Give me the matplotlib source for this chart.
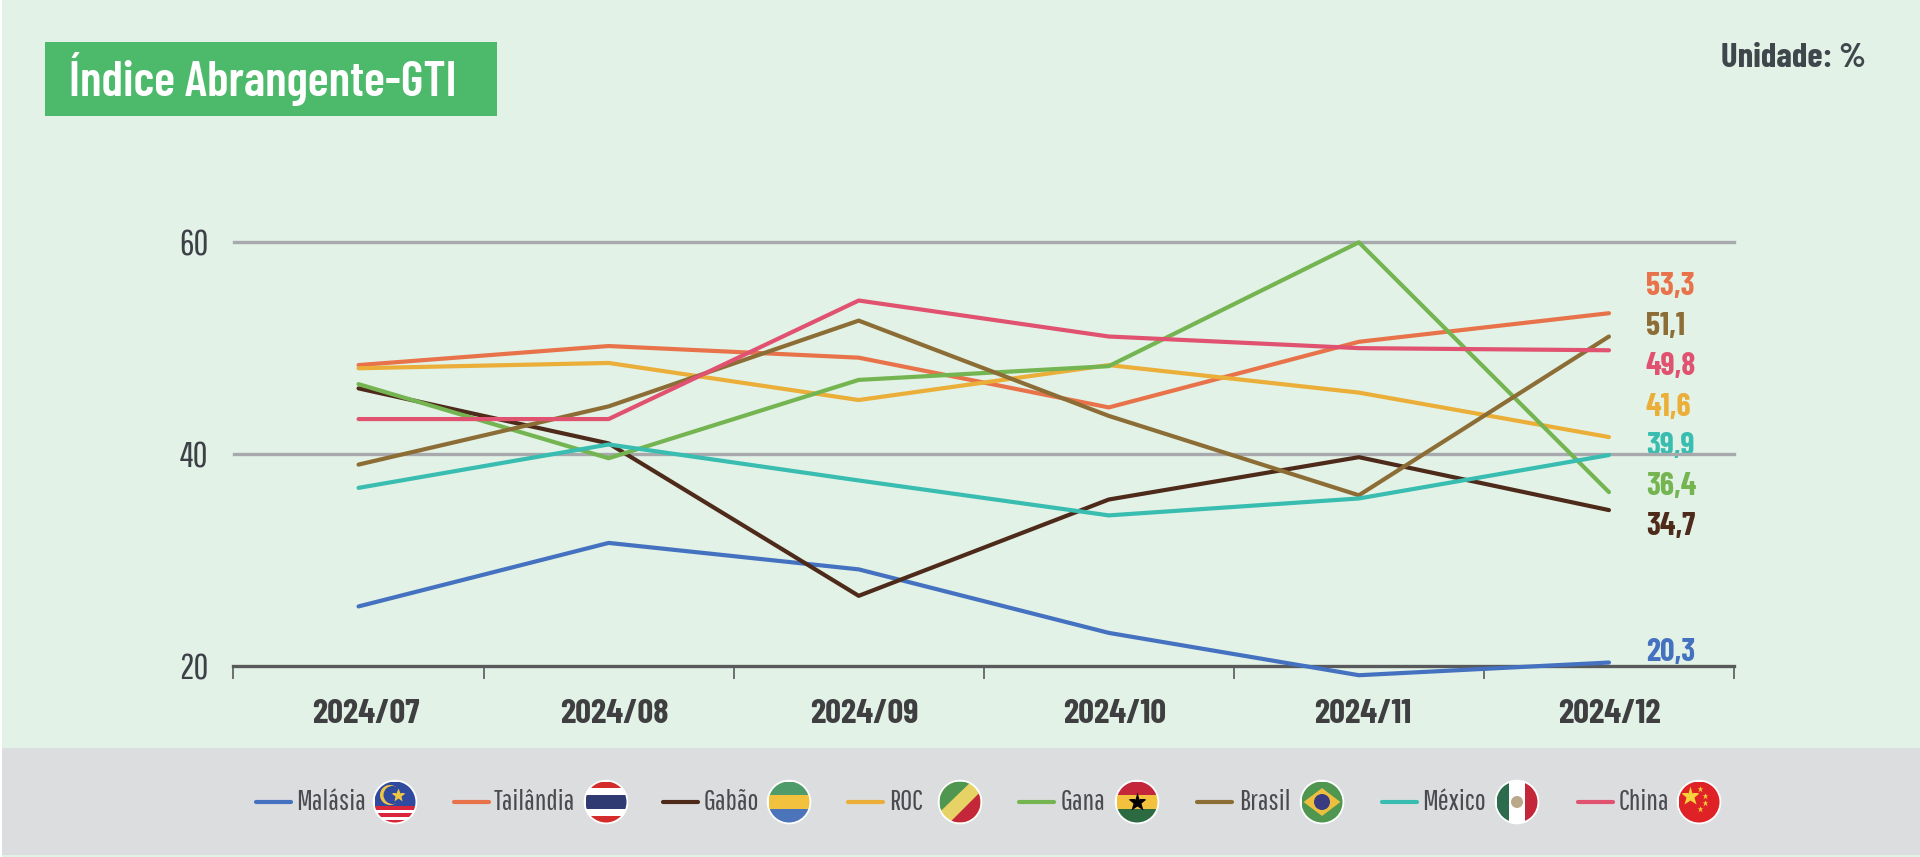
import matplotlib
matplotlib.use("Agg")
import matplotlib.pyplot as plt
from matplotlib.patches import Rectangle, Circle, Polygon
from matplotlib.transforms import ScaledTranslation

# DIN style condensed look, with plain fallbacks behind it
thin_font = ['Pathway Gothic One', 'Barlow Condensed', 'Roboto', 'DejaVu Sans']
bold_font = ['Barlow Condensed', 'Roboto', 'DejaVu Sans']
plt.rcParams['font.family'] = thin_font

# Data
months = ['2024/07', '2024/08', '2024/09', '2024/10', '2024/11', '2024/12']
malasia = [25.6, 31.6, 29.1, 23.1, 19.1, 20.3]
tailandia = [48.4, 50.2, 49.1, 44.4, 50.6, 53.3]
gabao = [46.2, 41.0, 26.6, 35.7, 39.7, 34.7]
roc = [48.1, 48.6, 45.1, 48.4, 45.8, 41.6]
gana = [46.6, 39.6, 47.0, 48.3, 60.0, 36.4]
brasil = [39.0, 44.5, 52.6, 43.6, 36.1, 51.1]
mexico = [36.8, 40.9, 37.5, 34.2, 35.8, 39.9]
china = [43.3, 43.3, 54.5, 51.1, 50.0, 49.8]

names = ['Malásia', 'Tailândia', 'Gabão', 'ROC', 'Gana', 'Brasil', 'México', 'China']
series = [malasia, tailandia, gabao, roc, gana, brasil, mexico, china]
colors = ['#4472C0', '#E8734A', '#4E2A1A', '#EBAE38', '#74B552', '#8C6D35', '#38BDB0', '#E05270']

# Layout, in pixels of the 1920x857 picture
end_label_y = {'Tailândia': 286, 'Brasil': 326, 'China': 366, 'ROC': 407,
               'México': 446, 'Gana': 486, 'Gabão': 526, 'Malásia': 652}
month_label_shift = [7, 6, 6, 6, 4, 0]
legend_line_x = [256, 454, 663, 848, 1019, 1197, 1382, 1578]
legend_text_x = [296, 494, 704, 889, 1061, 1239, 1422, 1619]
legend_flag_x = [395, 606, 789, 960, 1137, 1322, 1517, 1699]
legend_y = 802
flag_r = 20.5


def draw_flag(ax, cx, cy, name):
    r = flag_r
    ring = Circle((cx, cy), r + 1.8, fc='white', ec='none', zorder=3)
    ax.add_patch(ring)
    clip = Circle((cx, cy), r, transform=ax.transData)
    drawn = []

    def band(top, bottom, color):
        # top and bottom run from 0 to 1 down the flag
        rect = Rectangle((cx - r, cy - r + 2 * r * top), 2 * r, 2 * r * (bottom - top),
                         fc=color, ec='none', zorder=4)
        drawn.append(ax.add_patch(rect))

    def shape(points, color):
        pts = [(cx + r * px, cy + r * py) for px, py in points]
        drawn.append(ax.add_patch(Polygon(pts, fc=color, ec='none', zorder=5)))

    if name == 'Malásia':
        band(0, 0.6, '#2F4A9F')
        band(0.6, 0.7, '#D9263A')
        band(0.7, 0.78, 'white')
        band(0.78, 0.87, '#D9263A')
        band(0.87, 0.93, 'white')
        band(0.93, 1, '#D9263A')
        drawn.append(ax.add_patch(Circle((cx - 5, cy - 7), 10, fc='#EFC544', ec='none', zorder=5)))
        drawn.append(ax.add_patch(Circle((cx - 2.5, cy - 7), 9, fc='#2F4A9F', ec='none', zorder=5)))
        drawn += ax.plot(cx + 3, cy - 7, marker='*', ms=10, color='#EFC544', mec='none', zorder=6)
    elif name == 'Tailândia':
        band(0, 0.17, '#D42B2B')
        band(0.17, 0.33, 'white')
        band(0.33, 0.67, '#2F3A72')
        band(0.67, 0.83, 'white')
        band(0.83, 1, '#D42B2B')
    elif name == 'Gabão':
        band(0, 0.34, '#4F9C6A')
        band(0.34, 0.66, '#F2C23E')
        band(0.66, 1, '#4C74BA')
    elif name == 'ROC':
        band(0, 1, '#E6D265')
        shape([(-1, -1), (0.55, -1), (-1, 0.5)], '#4F9650')
        shape([(1, 1), (-0.5, 1), (1, -0.5)], '#C4263A')
    elif name == 'Gana':
        band(0, 0.33, '#C4263A')
        band(0.33, 0.67, '#F2C23E')
        band(0.67, 1, '#2C6B42')
        drawn += ax.plot(cx, cy, marker='*', ms=14, color='black', mec='none', zorder=6)
    elif name == 'Brasil':
        band(0, 1, '#4F9650')
        shape([(-0.9, 0), (0, -0.68), (0.9, 0), (0, 0.68)], '#EDBF3F')
        drawn.append(ax.add_patch(Circle((cx, cy), 8, fc='#3A3B80', ec='none', zorder=6)))
    elif name == 'México':
        band(0, 1, 'white')
        rect = Rectangle((cx - r, cy - r), 2 * r * 0.3, 2 * r, fc='#2C6B4C', ec='none', zorder=5)
        drawn.append(ax.add_patch(rect))
        rect = Rectangle((cx + r * 0.4, cy - r), 2 * r * 0.3, 2 * r, fc='#C4263A', ec='none', zorder=5)
        drawn.append(ax.add_patch(rect))
        drawn.append(ax.add_patch(Circle((cx, cy), 6, fc='#B9A98A', ec='none', zorder=6)))
    elif name == 'China':
        band(0, 1, '#DE2226')
        star_y = '#F6D23C'
        drawn += ax.plot(cx - 9, cy - 6, marker='*', ms=14, color=star_y, mec='none', zorder=6)
        for sx, sy in [(1, -13), (6, -6), (6, 1), (1, 7)]:
            drawn += ax.plot(cx + sx, cy + sy, marker='*', ms=5, color=star_y, mec='none', zorder=6)

    for artist in drawn:
        artist.set_clip_path(clip)


fig = plt.figure(figsize=(19.2, 8.57), dpi=100, facecolor='white')

# Full picture layer in pixels for panel, title and legend
bg = fig.add_axes([0, 0, 1, 1], zorder=0)
bg.set_xlim(0, 1920)
bg.set_ylim(857, 0)
bg.axis('off')
bg.add_patch(Rectangle((2, 0), 1918, 857, fc='#E2F2E6', ec='none'))
bg.add_patch(Rectangle((2, 748), 1918, 107, fc='#DCDDDF', ec='none'))
bg.add_patch(Rectangle((45, 42), 452, 74, fc='#4DBA6B', ec='none'))
bg.text(69, 79, 'Índice Abrangente-GTI', color='white', fontsize=35.3, family=bold_font,
        fontweight='semibold', va='center', ha='left')
bg.text(1866, 58, 'Unidade: %', color='#3F474C', fontsize=25, family=bold_font,
        fontweight='bold', va='center', ha='right')

for i, name in enumerate(names):
    bg.plot([legend_line_x[i], legend_line_x[i] + 35], [legend_y, legend_y], color=colors[i],
            lw=3, solid_capstyle='round')
    bg.text(legend_text_x[i], legend_y, name, color='#4A4A4F', fontsize=21, va='center', ha='left')
    draw_flag(bg, legend_flag_x[i], legend_y, name)

# Chart
ax = fig.add_axes([233.5 / 1920, (857 - 665.7) / 857, (1734 - 233.5) / 1920, (665.7 - 242.3) / 857], zorder=1)
ax.patch.set_alpha(0)
ax.set_xlim(-0.5, 5.5)
ax.set_ylim(20, 60)

for s in ['top', 'left', 'right']:
    ax.spines[s].set_visible(False)
ax.spines['bottom'].set_color('#58595B')
ax.spines['bottom'].set_linewidth(2.4)

ax.set_yticks([20, 40, 60])
ax.set_yticklabels(['20', '40', '60'], fontsize=26, color='#3D4047')
ax.tick_params(axis='y', length=0, pad=18)
for gy in [40, 60]:
    ax.axhline(gy, color='#A7A9AC', lw=2.4, zorder=1, clip_on=False)

ax.set_xticks(range(len(months)))
ax.set_xticklabels(months, fontsize=25, family=bold_font, fontweight='bold', color='#3F3F42')
ax.set_xticks([i - 0.5 for i in range(len(months) + 1)], minor=True)
ax.tick_params(axis='x', which='major', length=0, pad=24)
ax.tick_params(axis='x', which='minor', length=9, width=1.2, color='#58595B')
for tick_label, shift in zip(ax.get_xticklabels(), month_label_shift):
    tick_label.set_transform(tick_label.get_transform() + ScaledTranslation(shift / 100, 0, fig.dpi_scale_trans))

for i, name in enumerate(names):
    ax.plot(range(len(months)), series[i], color=colors[i], lw=3, clip_on=False,
            solid_capstyle='round', solid_joinstyle='round', zorder=3 + i)
    label = f'{series[i][-1]:.1f}'.replace('.', ',')
    bg.text(1646, end_label_y[name], label, color=colors[i], fontsize=23, family=bold_font,
            fontweight='bold', va='center', ha='left', zorder=5)

fig.savefig('out.png', dpi=100)
